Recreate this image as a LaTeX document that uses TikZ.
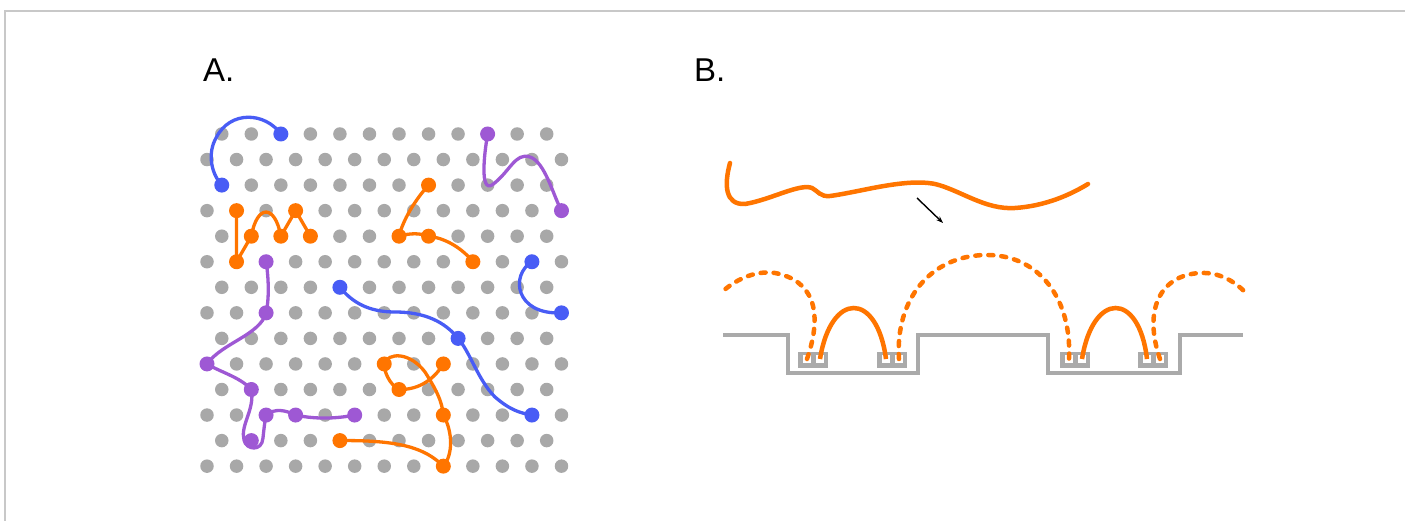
\documentclass[tikz,border=0pt]{standalone}
\usepackage{fontspec}
\setmainfont{Liberation Sans}
\usetikzlibrary{arrows.meta}
\pgfdeclarelayer{bg}
\pgfdeclarelayer{mid}
\pgfsetlayers{bg,mid,main}
\definecolor{dotgray}{RGB}{168,168,168}
\definecolor{aorange}{RGB}{255,117,0}
\definecolor{ablue}{RGB}{72,92,245}
\definecolor{apurple}{RGB}{158,88,212}
\definecolor{subgray}{RGB}{170,170,170}
\definecolor{framegray}{RGB}{200,200,200}
\begin{document}
\begin{tikzpicture}[x=1pt,y=-1pt,
  gdot/.style={circle,fill=dotgray,minimum size=13.5pt,inner sep=0pt,draw=none},
  cdot/.style={circle,fill=#1,minimum size=15pt,inner sep=0pt,draw=none},
  conn/.style={line width=3.3pt,line cap=round,line join=round,#1},
  wire/.style={aorange,line width=4.5pt},
  dwire/.style={aorange,line width=4.5pt,line cap=round,dash pattern=on 5pt off 8pt},
  lab/.style={anchor=base west,inner sep=0pt,font=\fontsize{33}{40}\selectfont}]
\useasboundingbox (0,0) rectangle (1405,521);
\begin{pgfonlayer}{bg}
\fill[white] (0,0) rectangle (1405,521);
\draw[framegray,line width=2pt] (5,521) -- (5,11) -- (1405,11);
\foreach \v in {0,2,...,12}{\foreach \u in {1,3,...,23}{
  \node[gdot] (g\u-\v) at ({207+14.77*\u},{134+25.55*\v}) {};}}
\foreach \v in {1,3,...,13}{\foreach \u in {0,2,...,24}{
  \node[gdot] (g\u-\v) at ({207+14.77*\u},{134+25.55*\v}) {};}}
\end{pgfonlayer}
\node[lab] (labA) at (203,82) {A.};
\node[lab] (labB) at (694,82) {B.};
% coloured dots
\foreach \n/\p in {b1/g5-0,b2/g1-2,b3/g22-5,b4/g24-7,b5/g9-6,b6/g17-8,b7/g22-11}
  {\node[cdot=ablue] (\n) at (\p) {};}
\foreach \n/\p in {p1/g19-0,p2/g24-3,p3/g4-5,p4/g4-7,p5/g0-9,p6/g3-10,p7/g3-12,p8/g4-11,p9/g6-11,p10/g10-11}
  {\node[cdot=apurple] (\n) at (\p) {};}
\foreach \n/\p in {o1/g2-3,o2/g2-5,o3/g3-4,o4/g5-4,o5/g6-3,o6/g7-4,o7/g15-2,o8/g13-4,o9/g15-4,o10/g18-5,o11/g16-9,o12/g13-10,o13/g12-9,o14/g16-11,o15/g16-13,o16/g9-12}
  {\node[cdot=aorange] (\n) at (\p) {};}
\begin{pgfonlayer}{mid}
\draw[conn=ablue] (b1.center) .. controls (265,112) and (230,110) .. (216,138) .. controls (208,152) and (210,172) .. (b2.center);
\draw[conn=apurple] (p1.center) .. controls (484,155) and (480,192) .. (492,185) .. controls (510,172) and (515,152) .. (530,157) .. controls (545,162) and (553,195) .. (p2.center);
\draw[conn=aorange] (o1.center) -- (o2.center) -- (o3.center) .. controls (257,204) and (275,204) .. (o4.center) -- (o5.center) -- (o6.center);
\draw[conn=aorange] (o7.center) .. controls (415,200) and (403,220) .. (o8.center) .. controls (410,233) and (420,233) .. (o9.center) .. controls (445,238) and (462,248) .. (o10.center);
\draw[conn=ablue] (b3.center) .. controls (510,275) and (515,315) .. (b4.center);
\draw[conn=ablue] (b5.center) .. controls (352,302) and (368,312) .. (395,312) .. controls (425,312) and (445,322) .. (b6.center) .. controls (470,352) and (478,380) .. (495,397) .. controls (510,410) and (520,413) .. (b7.center);
\draw[conn=apurple] (p3.center) .. controls (269,280) and (269,300) .. (p4.center) .. controls (260,335) and (222,343) .. (p5.center) .. controls (220,372) and (240,377) .. (p6.center) .. controls (255,410) and (240,425) .. (244,440) .. controls (246,450) and (262,452) .. (263,438) .. controls (264,428) and (265,420) .. (p8.center) .. controls (275,408) and (285,410) .. (p9.center) .. controls (318,420) and (340,418) .. (p10.center);
\draw[conn=aorange] (o11.center) .. controls (435,378) and (420,390) .. (o12.center) .. controls (390,385) and (384,372) .. (o13.center) .. controls (388,352) and (410,352) .. (425,372) .. controls (435,388) and (442,400) .. (o14.center) .. controls (453,432) and (453,455) .. (o15.center) .. controls (425,448) and (400,440) .. (o16.center);
\end{pgfonlayer}
% panel B
\draw[wire,line cap=round] (730,163) .. controls (724,185) and (725,205) .. (745,204) .. controls (770,200) and (800,183) .. (812,188) .. controls (818,191) and (820,197) .. (830,196) .. controls (860,192) and (905,178) .. (935,184) .. controls (960,190) and (985,210) .. (1015,208) .. controls (1045,206) and (1070,195) .. (1088,184);
\coordinate (arS) at (917,198);
\coordinate (arE) at (943,223);
\draw[-{Stealth[length=7pt,width=5pt]},line width=1.4pt] (arS) -- (arE);
\draw[subgray,line width=4pt] (723,335) -- (788,335) -- (788,373) -- (918,373) -- (918,335) -- (1048,335) -- (1048,373) -- (1180,373) -- (1180,335) -- (1243,335);
\foreach \x in {798,877,1060,1138}{
  \fill[subgray] (\x,351.5) rectangle ++(30,16);
  \fill[white] ({\x+5},355) rectangle ++(8,8);
  \fill[white] ({\x+18},355) rectangle ++(8,8);}
\draw[wire] (820,359) .. controls (831,291) and (877,291) .. (886,359);
\draw[wire] (1082,359) .. controls (1093,291) and (1139,291) .. (1147,359);
\draw[dwire] (807,359) .. controls (824,310) and (812,280) .. (775,273) .. controls (755,270) and (735,280) .. (722,292);
\draw[dwire] (899,359) .. controls (895,300) and (930,256) .. (985,255) .. controls (1040,254) and (1072,300) .. (1069,359);
\draw[dwire] (1160,359) .. controls (1143,310) and (1160,275) .. (1200,273) .. controls (1220,272) and (1235,282) .. (1245,292);
\end{tikzpicture}
\end{document}
